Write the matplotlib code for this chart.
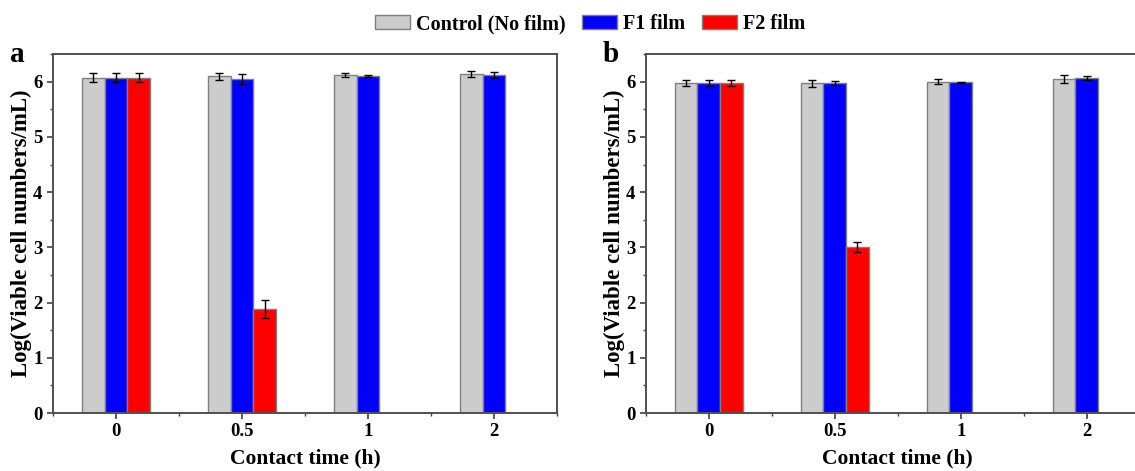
import matplotlib
matplotlib.use("Agg")
import matplotlib.pyplot as plt
from matplotlib.patches import Patch
from matplotlib.ticker import MultipleLocator
import numpy as np

plt.rcParams['font.family'] = ['Liberation Serif', 'DejaVu Serif']
plt.rcParams['font.weight'] = 'bold'

# dados
tempos = ["0", "0.5", "1", "2"]
series = ["Control (No film)", "F1 film", "F2 film"]
cores = ["#cccccc", "#0000ff", "#ff0000"]

controle_a = [6.07, 6.10, 6.12, 6.14]
controle_a_err = [0.08, 0.06, 0.04, 0.05]
f1_a = [6.07, 6.05, 6.10, 6.12]
f1_a_err = [0.08, 0.09, 0.015, 0.05]
f2_a = [6.07, 1.88]
f2_a_err = [0.08, 0.165]

controle_b = [5.98, 5.97, 6.00, 6.05]
controle_b_err = [0.05, 0.07, 0.045, 0.065]
f1_b = [5.98, 5.98, 5.99, 6.07]
f1_b_err = [0.05, 0.03, 0.01, 0.04]
f2_b = [5.98, 3.01]
f2_b_err = [0.05, 0.09]


def Painel(ax, valores, erros, letra):
    x = np.arange(len(tempos))
    largura = 0.18
    for k, (v, e) in enumerate(zip(valores, erros)):
        pos = x[:len(v)] + (k - 1) * largura
        ax.bar(pos, v, largura, color=cores[k], edgecolor="#7f7f7f",
               linewidth=1.0, zorder=2)
        ax.errorbar(pos, v, yerr=e, fmt="none", ecolor="black",
                    elinewidth=1.0, capsize=3, capthick=1.0, zorder=3)

    ax.set_xlim(-0.5, len(tempos) - 0.5)
    ax.set_ylim(0, 6.5)
    ax.set_xticks(x)
    ax.set_xticklabels(tempos)
    ax.xaxis.set_minor_locator(MultipleLocator(0.5))
    ax.yaxis.set_major_locator(MultipleLocator(1))
    ax.yaxis.set_minor_locator(MultipleLocator(0.5))
    ax.tick_params(which="major", length=4, width=1.2, labelsize=13.5,
                   color="#404040")
    ax.tick_params(which="minor", length=2.5, width=1.0, color="#404040")
    for s in ax.spines.values():
        s.set_color("#505050")
        s.set_linewidth(1.4)
    ax.set_xlabel("Contact time (h)", fontsize=15.5, fontweight="bold",
                  labelpad=6)
    ax.set_ylabel("Log(Viable cell numbers/mL)", fontsize=16.5,
                  fontweight="bold", labelpad=1)
    ax.text(-0.07, 1.0, letra, transform=ax.transAxes, fontsize=21,
            fontweight="bold", ha="center", va="center")


fig = plt.figure(figsize=(11.35, 4.71), dpi=100)
ax1 = fig.add_axes([0.0467, 0.123, 0.444, 0.762])
ax2 = fig.add_axes([0.569, 0.123, 0.444, 0.762])

Painel(ax1, [controle_a, f1_a, f2_a], [controle_a_err, f1_a_err, f2_a_err], "a")
Painel(ax2, [controle_b, f1_b, f2_b], [controle_b_err, f1_b_err, f2_b_err], "b")

handles = [Patch(facecolor=c, edgecolor="#7f7f7f", linewidth=1.0) for c in cores]
fig.legend(handles, series, loc="center", bbox_to_anchor=(0.52, 0.949),
           ncol=3, frameon=False, fontsize=14.5, handlelength=1.75,
           handleheight=0.65, columnspacing=0.8, handletextpad=0.3)

fig.savefig("out.png", dpi=100)
